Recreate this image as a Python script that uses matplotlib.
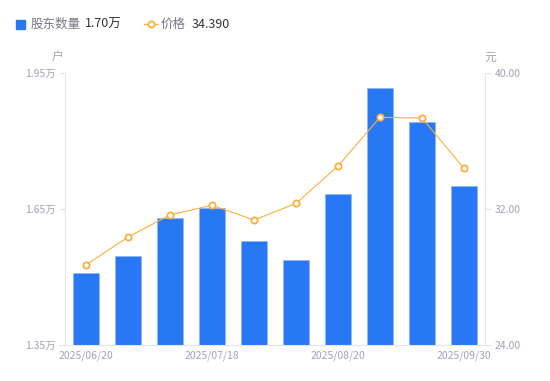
import numpy as np
import matplotlib
matplotlib.use('Agg')
import matplotlib.pyplot as plt
from matplotlib.lines import Line2D
from matplotlib.patches import Rectangle

plt.rcParams['font.family'] = ['Noto Sans CJK SC', 'DejaVu Sans']

# data
dates = ['2025/06/20', '', '', '2025/07/18', '', '', '2025/08/20', '', '', '2025/09/30']
holders = [1.509, 1.546, 1.630, 1.652, 1.580, 1.538, 1.683, 1.917, 1.842, 1.700]  # 万户
price = [28.71, 30.35, 31.65, 32.22, 31.35, 32.33, 34.53, 37.39, 37.35, 34.39]
left_ticks = [1.35, 1.65, 1.95]
right_ticks = [24, 32, 40]

blue = '#2878f5'
orange = '#fbb03b'
grey = '#a3a3b3'
axis_grey = '#e3e3e8'
dark = '#333333'

fig = plt.figure(figsize=(5.5, 3.81), dpi=100)
ax = fig.add_axes([65 / 550, 36 / 381, 420 / 550, 272 / 381])
x = np.arange(len(holders))

ax.bar(x, holders, width=0.6, color=blue, edgecolor='#8fb8fa', linewidth=0.6, zorder=2)
ax.set_xlim(-0.5, len(holders) - 0.5)
ax.set_ylim(1.35, 1.95)
ax.set_yticks(left_ticks)
ax.set_yticklabels([f'{v:.2f}万' for v in left_ticks])
ax.set_xticks(x)
ax.set_xticklabels(dates)

ax2 = ax.twinx()
ax2.plot(x, price, color=orange, linewidth=0.8, marker='o', markersize=4.5,
         markerfacecolor='white', markeredgecolor=orange, markeredgewidth=1.3, zorder=3)
ax2.set_ylim(24, 40)
ax2.set_yticks(right_ticks)
ax2.set_yticklabels([f'{v:.2f}' for v in right_ticks])

for a in (ax, ax2):
    for s in a.spines.values():
        s.set_visible(False)
    a.tick_params(colors=axis_grey, labelcolor=grey, labelsize=7.5, length=4, width=0.8, pad=3)
ax.spines['left'].set_visible(True)
ax.spines['left'].set_color(axis_grey)
ax.spines['bottom'].set_visible(True)
ax.spines['bottom'].set_color(axis_grey)
ax2.spines['right'].set_visible(True)
ax2.spines['right'].set_color(axis_grey)
ax.tick_params(axis='x', length=0, pad=4)

# unit labels
fig.text(58 / 550, 1 - 57 / 381, '户', color=grey, fontsize=8.5, ha='center', va='center')
fig.text(490 / 550, 1 - 57 / 381, '元', color=grey, fontsize=8.5, ha='center', va='center')

# legend row
ly = 1 - 24 / 381
fig.patches.append(Rectangle((16 / 550, ly - 4.5 / 381), 9 / 550, 9 / 381,
                             transform=fig.transFigure, color=blue, figure=fig))
fig.text(31 / 550, ly, '股东数量', color='#777788', fontsize=9, va='center')
fig.text(85 / 550, ly, '1.70万', color=dark, fontsize=9, va='center')
fig.lines.append(Line2D([144 / 550, 157 / 550], [ly, ly], transform=fig.transFigure,
                        color=orange, linewidth=1, figure=fig))
fig.lines.append(Line2D([150.5 / 550], [ly], transform=fig.transFigure, marker='o',
                        markersize=4.5, markerfacecolor='white', markeredgecolor=orange,
                        markeredgewidth=1.3, linestyle='none', figure=fig))
fig.text(161 / 550, ly, '价格', color='#777788', fontsize=9, va='center')
fig.text(192 / 550, ly, '34.390', color=dark, fontsize=9, va='center')

fig.savefig('out.png', dpi=100)
